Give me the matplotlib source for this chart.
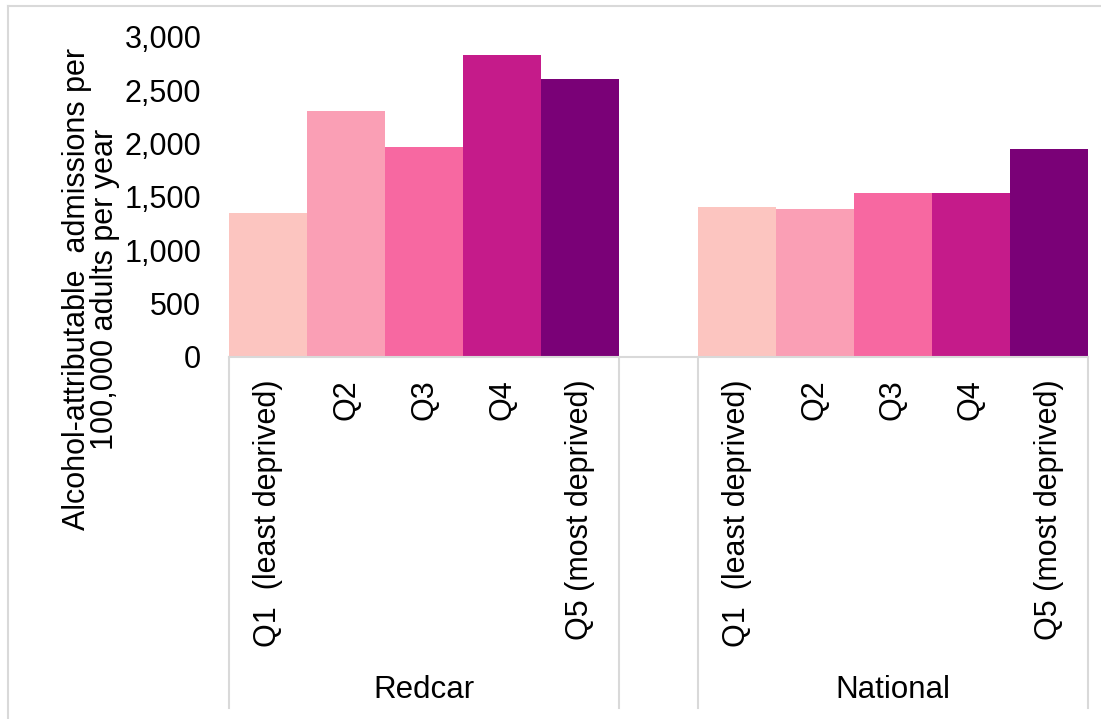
import matplotlib
matplotlib.use("Agg")
import matplotlib.pyplot as plt
from matplotlib.lines import Line2D
import matplotlib.transforms as mtransforms

plt.rcParams['font.family'] = ['Liberation Sans', 'DejaVu Sans']

quintiles = ["Q1  (least deprived)", "Q2", "Q3", "Q4", "Q5 (most deprived)"]
groups = ["Redcar", "National"]
redcar = [1350, 2305, 1970, 2830, 2605]
national = [1405, 1388, 1540, 1540, 1950]
colors = ["#fcc5c0", "#fa9fb5", "#f768a1", "#c51b8a", "#7a0177"]
yticks = [0, 500, 1000, 1500, 2000, 2500, 3000]
ylabel = "Alcohol-attributable  admissions per\n100,000 adults per year"

W, H = 1101, 719
fig = plt.figure(figsize=(W / 100, H / 100), dpi=100)
ax = fig.add_axes([229 / W, (H - 357) / H, (1088 - 229) / W, (357 - 37) / H])

n = len(quintiles)
pos_r = list(range(n))
pos_n = [n + 1 + i for i in range(n)]
ax.bar(pos_r, redcar, width=1.0, color=colors, linewidth=0)
ax.bar(pos_n, national, width=1.0, color=colors, linewidth=0)

ax.set_xlim(-0.5, 2 * n + 0.5)
ax.set_ylim(0, 3000)
ax.set_yticks(yticks)
ax.set_yticklabels([f"{v:,}" for v in yticks])
ax.tick_params(axis='y', length=0, pad=20, labelsize=22)

ax.set_xticks(pos_r + pos_n)
ax.set_xticklabels(quintiles + quintiles, rotation=90, va='top', ha='center')
ax.tick_params(axis='x', length=0, pad=16, labelsize=22)

for s in ['top', 'right', 'left']:
    ax.spines[s].set_visible(False)
ax.spines['bottom'].set_color('#d9d9d9')
ax.spines['bottom'].set_linewidth(1.5)

# category separators
trans = mtransforms.blended_transform_factory(ax.transData, ax.transAxes)
ybot = -(708 - 357) / (357 - 37)
for xv in [-0.5, n - 0.5, n + 0.5, 2 * n + 0.5]:
    ax.add_line(Line2D([xv, xv], [0, ybot], transform=trans, color='#d9d9d9',
                       linewidth=1.5, clip_on=False))

# group labels
ylab = -(690 - 357) / (357 - 37)
ax.text((n - 1) / 2, ylab, groups[0], transform=trans, ha='center', va='center', fontsize=22.5)
ax.text(n + 1 + (n - 1) / 2, ylab, groups[1], transform=trans, ha='center', va='center', fontsize=22.5)

fig.text(91 / W, 1 - 289 / H, ylabel, rotation=90, ha='center', va='center',
         multialignment='center', fontsize=22, linespacing=0.95)

# outer chart border (top & left visible)
fig.add_artist(Line2D([8 / W, 1], [1 - 6 / H, 1 - 6 / H], transform=fig.transFigure,
                      color='#d9d9d9', linewidth=1.5))
fig.add_artist(Line2D([8 / W, 8 / W], [0, 1 - 6 / H], transform=fig.transFigure,
                      color='#d9d9d9', linewidth=1.5))

fig.savefig("out.png", dpi=100)
